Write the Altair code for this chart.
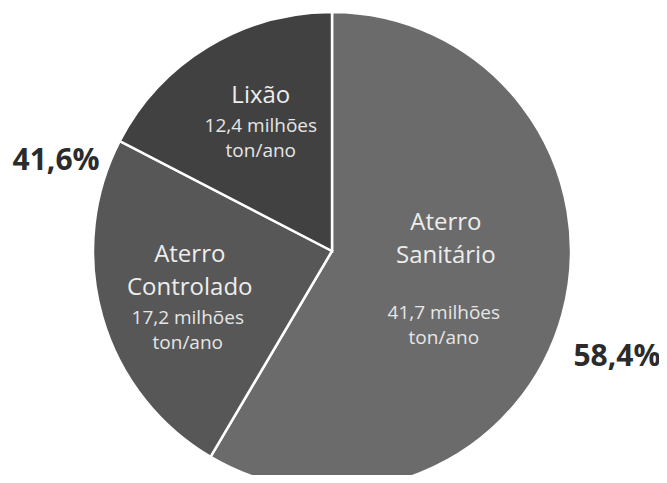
import math
import altair as alt
import pandas as pd

# ---- data ----
categories = ["Aterro Sanitário", "Aterro Controlado", "Lixão"]
name_labels = ["Aterro\nSanitário", "Aterro\nControlado", "Lixão"]
amounts = [41.7, 17.2, 12.4]  # milhões ton/ano
group_labels = ["58,4%", "41,6%"]
group_shares = [58.4, 41.6]

colors = ["#6b6b6b", "#575757", "#414141"]

df = pd.DataFrame({
    "cat": categories,
    "name": name_labels,
    "value": amounts,
    "ord": list(range(len(categories))),
    "amt": [f"{v:.1f}".replace(".", ",") + " milhões\nton/ano" for v in amounts],
})
gdf = pd.DataFrame({
    "label": group_labels,
    "share": group_shares,
    "ord": list(range(len(group_labels))),
})

total = sum(amounts)
gtotal = sum(group_shares)
CX, CY, R = 324, 243, 239
FONT = "Open Sans"

tscale = alt.Scale(domain=[0, total], range=[0, 2 * math.pi])
gscale = alt.Scale(domain=[0, gtotal], range=[0, 2 * math.pi])


def stacked(data, field):
    return (
        alt.Chart(data)
        .transform_window(cum=f"sum({field})", sort=[alt.SortField("ord")], frame=[None, 0])
        .transform_calculate(start=f"datum.cum - datum.{field}",
                             mid=f"datum.cum - datum.{field} / 2")
    )


base = stacked(df, "value")
gbase = stacked(gdf, "share")

arcs = base.mark_arc(radius=R, stroke="white", strokeWidth=2.5).encode(
    x=alt.value(CX), y=alt.value(CY),
    theta=alt.Theta("start:Q", scale=tscale),
    theta2="cum:Q",
    color=alt.Color("cat:N", scale=alt.Scale(domain=categories, range=colors), legend=None),
)

label_cfg = {
    "Aterro Sanitário": dict(r=118, ndx=0, ndy=-59, adx=-2, ady=31),
    "Aterro Controlado": dict(r=148, ndx=0, ndy=-37, adx=-2, ady=26),
    "Lixão": dict(r=137, ndx=0, ndy=-38, adx=0, ady=-8),
}

layers = [arcs]
for cat, c in label_cfg.items():
    sel = base.transform_filter(alt.datum.cat == cat)
    layers.append(
        sel.mark_text(radius=c["r"], dx=c["ndx"], dy=c["ndy"], font=FONT, fontSize=24,
                      color="#ededed", lineBreak="\n", lineHeight=33, align="center",
                      baseline="middle").encode(
            x=alt.value(CX), y=alt.value(CY),
            theta=alt.Theta("mid:Q", scale=tscale), text="name:N")
    )
    layers.append(
        sel.mark_text(radius=c["r"], dx=c["adx"], dy=c["ady"], font=FONT, fontSize=19,
                      color="#e6e6e6", lineBreak="\n", lineHeight=25, align="center",
                      baseline="middle").encode(
            x=alt.value(CX), y=alt.value(CY),
            theta=alt.Theta("mid:Q", scale=tscale), text="amt:N")
    )

pct_cfg = {
    "58,4%": dict(r=290, dx=5, dy=30),
    "41,6%": dict(r=290, dx=4, dy=-14),
}
for lab, c in pct_cfg.items():
    layers.append(
        gbase.transform_filter(alt.datum.label == lab)
        .mark_text(radius=c["r"], dx=c["dx"], dy=c["dy"], font=FONT, fontSize=30,
                   fontWeight="bold", color="#2b2b2b", align="center", baseline="middle")
        .encode(x=alt.value(CX), y=alt.value(CY),
                theta=alt.Theta("mid:Q", scale=gscale), text="label:N")
    )

chart = (
    alt.layer(*layers)
    .resolve_scale(theta="independent")
    .properties(width=651, height=467, padding=0, autosize="none", background="white")
    .configure_view(stroke=None)
)

chart.save("out.html", embed_options={"renderer": "svg", "actions": False})
